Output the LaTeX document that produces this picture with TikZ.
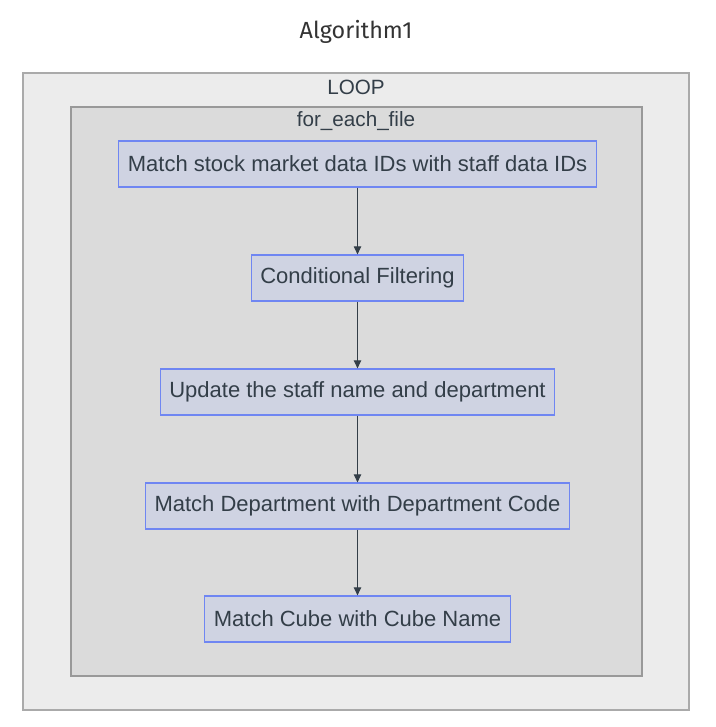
\documentclass[tikz,border=0pt]{standalone}
\usepackage{fontspec}
\setmainfont{Liberation Sans}
\newfontfamily\titlefont{Fira Sans}
\usepackage{tikz}
\usetikzlibrary{arrows.meta}
\definecolor{loopfill}{HTML}{ECECEC}
\definecolor{loopline}{HTML}{AAAAAA}
\definecolor{filefill}{HTML}{DBDBDB}
\definecolor{fileline}{HTML}{999999}
\definecolor{boxfill}{HTML}{CFD3E2}
\definecolor{boxline}{HTML}{6F86F2}
\definecolor{ink}{HTML}{333E48}
\begin{document}
\begin{tikzpicture}[x=0.75pt,y=-0.75pt,
	proc/.style={draw=boxline,fill=boxfill,line width=0.9pt,text=ink,font=\fontsize{16.5}{19}\selectfont,inner xsep=6.8pt,minimum height=34.5pt},
	flow/.style={draw=ink,line width=0.75pt,-{Triangle[length=6pt,width=5.5pt]}}]
\useasboundingbox (0,0) rectangle (715,727);
\draw[loopline,fill=loopfill,line width=0.8pt] (23,73) rectangle (689,710);
\draw[fileline,fill=filefill,line width=0.8pt] (71,107) rectangle (642,676);
\node[text=black!80] (T) at (356,32) {\titlefont\fontsize{17.5}{20}\selectfont Algorithm1};
\node[text=ink,font=\fontsize{15.5}{18}\selectfont] (L) at (356,87) {LOOP};
\node[text=ink,font=\fontsize{15.5}{18}\selectfont] (F) at (356,121) {for\_each\_file};
\node[proc] (A) at (357.5,164) {Match stock market data IDs with staff data IDs};
\node[proc] (B) at (357.5,278) {Conditional Filtering};
\node[proc] (C) at (357.5,392) {Update the staff name and department};
\node[proc] (D) at (357.5,506) {Match Department with Department Code};
\node[proc] (E) at (357.5,619) {Match Cube with Cube Name};
\draw[flow] (A) -- (B);
\draw[flow] (B) -- (C);
\draw[flow] (C) -- (D);
\draw[flow] (D) -- (E);

\end{tikzpicture}
\end{document}
